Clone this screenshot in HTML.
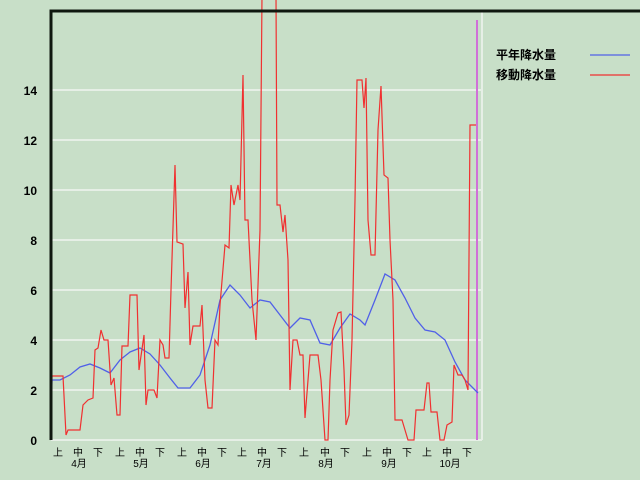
<!DOCTYPE html>
<html><head><meta charset="utf-8"><style>
body{margin:0;background:#c8dfc8;}
svg{display:block;font-family:"Liberation Sans","Noto Sans CJK JP",sans-serif;}
</style></head><body>
<svg width="640" height="480" viewBox="0 0 640 480">
<rect width="640" height="480" fill="#c8dfc8"/>
<g stroke="#e6efe6" stroke-width="2">
<line x1="51" x2="482" y1="440" y2="440"/><line x1="51" x2="482" y1="390" y2="390"/>
<line x1="51" x2="482" y1="340" y2="340"/><line x1="51" x2="482" y1="290" y2="290"/>
<line x1="51" x2="482" y1="240" y2="240"/><line x1="51" x2="482" y1="190" y2="190"/>
<line x1="51" x2="482" y1="140" y2="140"/><line x1="51" x2="482" y1="90" y2="90"/>
<line x1="482" x2="482" y1="12" y2="440"/>
</g>
<g font-size="12" font-weight="bold" text-anchor="end" fill="#000">
<text x="37" y="445">0</text><text x="37" y="395">2</text><text x="37" y="345">4</text>
<text x="37" y="295">6</text><text x="37" y="245">8</text><text x="37" y="195">10</text>
<text x="37" y="145">12</text><text x="37" y="95">14</text>
</g>
<g font-size="10" text-anchor="middle" fill="#000">
<text x="58" y="456">上</text><text x="78" y="456">中</text><text x="98" y="456">下</text>
<text x="120" y="456">上</text><text x="140" y="456">中</text><text x="160" y="456">下</text>
<text x="182" y="456">上</text><text x="202" y="456">中</text><text x="222" y="456">下</text>
<text x="242" y="456">上</text><text x="262" y="456">中</text><text x="282" y="456">下</text>
<text x="304" y="456">上</text><text x="325" y="456">中</text><text x="345" y="456">下</text>
<text x="367" y="456">上</text><text x="387" y="456">中</text><text x="407" y="456">下</text>
<text x="427" y="456">上</text><text x="447" y="456">中</text><text x="467" y="456">下</text>
<text x="79" y="467">4月</text><text x="141" y="467">5月</text><text x="203" y="467">6月</text>
<text x="264" y="467">7月</text><text x="326" y="467">8月</text><text x="389" y="467">9月</text>
<text x="450" y="467">10月</text>
</g>
<line x1="477" x2="477" y1="20" y2="440" stroke="#d070d8" stroke-width="2"/>
<polyline fill="none" stroke="#5060e8" stroke-width="1.3" points="51,420 52,380 60,380 70,375 80,367 90,364 100,368 110,373 120,360 130,352 140,348 150,354 160,365 170,378 178,388 190,388 200,375 210,345 220,300 230,285 240,295 250,308 260,300 270,302 280,315 290,328 300,318 310,320 320,343 330,345 340,328 350,314 360,320 365,325 375,300 385,274 395,280 405,298 415,318 425,330 435,332 445,340 455,362 465,380 478,393"/>
<polyline fill="none" stroke="#f03030" stroke-width="1.2" points="51,440 52,376 63,376 66,435 68,430 80,430 83,405 88,400 93,398 95,350 98,348 101,330 104,340 108,340 111,385 114,378 117,415 120,415 122,346 128,346 130,295 137,295 139,370 144,335 146,405 148,390 154,390 157,398 160,340 163,345 165,358 169,358 171,290 175,165 177,242 183,244 185,308 188,272 190,345 193,326 200,326 202,305 205,380 208,408 212,408 215,340 218,345 220,305 225,245 229,248 231,185 234,205 238,185 240,200 243,75 245,220 248,220 252,300 256,340 260,230 262,-5 276,-5 277,205 280,205 283,232 285,215 288,260 290,390 293,340 297,340 300,355 303,355 305,418 310,355 318,355 321,380 325,440 328,440 330,380 333,330 338,313 341,312 344,370 346,425 349,415 352,340 355,200 357,80 362,80 364,108 366,78 368,220 371,255 375,255 378,130 381,86 384,175 388,178 390,240 393,300 395,420 402,420 408,440 414,440 416,410 424,410 427,383 429,383 431,412 437,412 440,440 444,440 447,425 452,422 454,365 458,375 462,375 465,380 468,390 470,125 476,125"/>
<path d="M51,440 V11 H640" fill="none" stroke="#101810" stroke-width="3"/>
<g font-size="12" font-weight="bold" fill="#000">
<text x="496" y="59">平年降水量</text><text x="496" y="79">移動降水量</text>
</g>
<line x1="590" x2="630" y1="55" y2="55" stroke="#5060e8" stroke-width="1.3"/>
<line x1="590" x2="630" y1="75" y2="75" stroke="#f03030" stroke-width="1.3"/>
</svg>
</body></html>
